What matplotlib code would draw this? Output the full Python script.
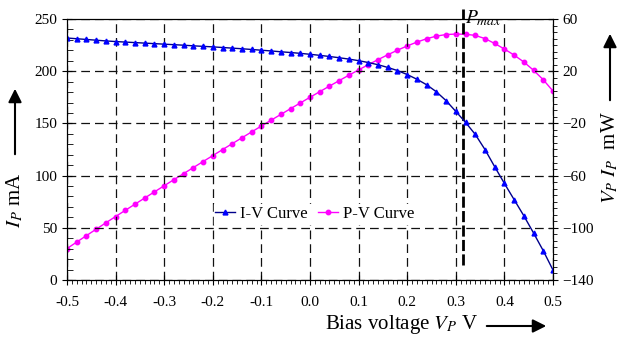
import matplotlib
matplotlib.use("Agg")
import matplotlib.pyplot as plt
from matplotlib.patches import FancyArrowPatch
from matplotlib.ticker import MultipleLocator, FormatStrFormatter

plt.rcParams['font.family'] = ['Liberation Serif', 'DejaVu Serif']
plt.rcParams['mathtext.fontset'] = 'stix'

# bias voltage (V), 0.02 V steps
volts = [-0.50, -0.48, -0.46, -0.44, -0.42, -0.40, -0.38, -0.36, -0.34, -0.32,
         -0.30, -0.28, -0.26, -0.24, -0.22, -0.20, -0.18, -0.16, -0.14, -0.12,
         -0.10, -0.08, -0.06, -0.04, -0.02, 0.00, 0.02, 0.04, 0.06, 0.08,
         0.10, 0.12, 0.14, 0.16, 0.18, 0.20, 0.22, 0.24, 0.26, 0.28,
         0.30, 0.32, 0.34, 0.36, 0.38, 0.40, 0.42, 0.44, 0.46, 0.48, 0.50]
# photo current (mA)
current = [231.8, 231.1, 230.4, 229.7, 229.0, 228.4, 227.9, 227.4, 226.9, 226.4,
           225.9, 225.4, 224.9, 224.3, 223.8, 223.3, 222.7, 222.1, 221.5, 220.8,
           220.1, 219.4, 218.6, 217.9, 217.1, 216.2, 215.2, 214.1, 212.9, 211.6,
           210.1, 208.3, 206.2, 203.6, 200.6, 196.8, 192.3, 187.0, 180.3, 171.8,
           161.5, 151.0, 139.5, 125.0, 108.5, 92.5, 77.0, 61.5, 45.0, 28.0, 9.5]
# power = V * I (mW)
power = [v * i for v, i in zip(volts, current)]
v_max = 0.315
right_ticks = [-140, -100, -60, -20, 20, 60]

fig = plt.figure(figsize=(6.21, 3.38), dpi=100)
ax = fig.add_axes([67/621, 58/338, 486/621, 261/338])
ax2 = ax.twinx()

l1, = ax.plot(volts, current, color='#00008b', lw=1, marker='^', ms=3.5,
              mfc='blue', mec='blue', label='I-V Curve')
l2, = ax2.plot(volts, power, color='#ff00ff', lw=1, marker='o', ms=3.2,
               label='P-V Curve')

ax.set_xlim(-0.5, 0.5)
ax.set_ylim(0, 250)
ax2.set_ylim(-140, 60)

ax.xaxis.set_major_locator(MultipleLocator(0.1))
ax.xaxis.set_minor_locator(MultipleLocator(0.01))
ax.xaxis.set_major_formatter(FormatStrFormatter('%.1f'))
ax.yaxis.set_major_locator(MultipleLocator(50))
ax.yaxis.set_minor_locator(MultipleLocator(10))
ax2.set_yticks(right_ticks)
ax2.yaxis.set_minor_locator(MultipleLocator(5))

ax.grid(True, which='major', color='#111111', ls=(0, (7, 4)), lw=0.9)
ax.tick_params(which='major', direction='inout', length=7, labelsize=11)
ax.tick_params(axis='x', which='major', pad=8)
ax.tick_params(axis='y', which='minor', direction='in', length=4)
ax.tick_params(axis='x', which='minor', direction='out', length=3)
ax2.tick_params(which='major', direction='inout', length=7, labelsize=11)
ax2.tick_params(which='minor', direction='out', length=3)

ax2.axvline(v_max, ymin=0.057, ymax=1.04, color='black', lw=2,
            ls=(0, (4, 1.2)), clip_on=False)
ax2.text(v_max + 0.003, 61, '$P_{max}$', fontsize=14, va='center', ha='left')

leg = ax.legend([l1, l2], ['I-V Curve', 'P-V Curve'], loc='center',
                bbox_to_anchor=(0.51, 0.253), ncol=2, frameon=True,
                fontsize=12, handlelength=1.2, handletextpad=0.3,
                columnspacing=0.6, borderpad=0.1, fancybox=False)
leg.get_frame().set_edgecolor('white')
leg.get_frame().set_alpha(1)
ax.set_zorder(ax2.get_zorder() + 1)
ax.patch.set_visible(False)

# axis titles with arrows
fig.text(15/621, 1 - 200/338, '$I_P$ mA', rotation=90, fontsize=15,
         ha='center', va='center')
fig.text(610/621, 1 - 158/338, '$V_P\\ I_P$  mW', rotation=90, fontsize=15,
         ha='center', va='center')
fig.text(402/621, 1 - 325/338, 'Bias voltage $V_P$ V', fontsize=15,
         ha='center', va='center')

arrows = [((15, 157), (15, 86)), ((610, 103), (610, 31)), ((484, 326), (549, 326))]
for (x0, y0), (x1, y1) in arrows:
    fig.add_artist(FancyArrowPatch(
        (x0/621, 1 - y0/338), (x1/621, 1 - y1/338), transform=fig.transFigure,
        arrowstyle='-|>,head_length=8,head_width=4', color='black', lw=1.5,
        mutation_scale=1))

fig.savefig('out.png', dpi=100)
